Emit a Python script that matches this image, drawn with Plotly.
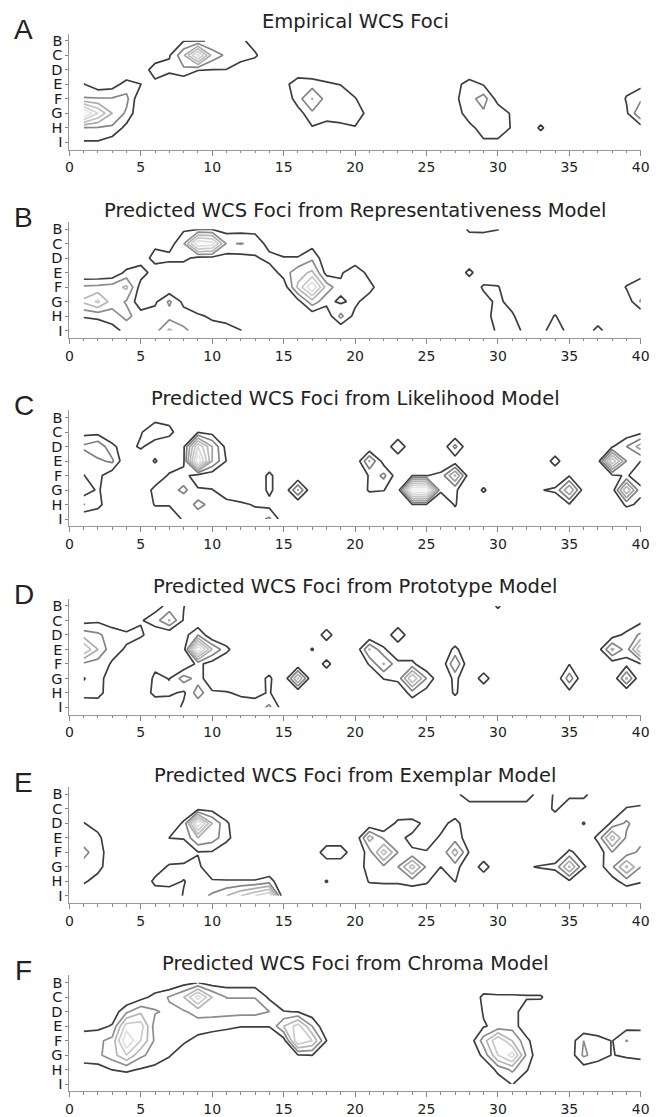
import plotly.graph_objects as go

ROWS = ["B", "C", "D", "E", "F", "G", "H", "I"]
COLS = list(range(1, 41))
XTICKS = [0, 5, 10, 15, 20, 25, 30, 35, 40]
PANEL_LETTERS = ["A", "B", "C", "D", "E", "F"]
TITLES = [
    "Empirical WCS Foci",
    "Predicted WCS Foci from Representativeness Model",
    "Predicted WCS Foci from Likelihood Model",
    "Predicted WCS Foci from Prototype Model",
    "Predicted WCS Foci from Exemplar Model",
    "Predicted WCS Foci from Chroma Model",
]

# focus density per chip (row letter -> {column: value}); unlisted chips are 0
EMPIRICAL = {
    "B": {8: 0.95, 9: 0.95, 10: 1.05, 11: 1.2, 12: 1.3, 13: 0.4},
    "C": {7: 0.9, 8: 2.8, 9: 6.5, 10: 2.6, 11: 1.8, 12: 1.4, 13: 1.2},
    "D": {6: 1.8, 7: 1.3, 8: 1.8, 9: 1.05, 10: 0.98, 11: 0.97, 12: 0.5},
    "E": {1: 1.05, 2: 0.33, 3: 0.5, 4: 1.43, 5: 1.02, 6: 0.55,
          15: 0.5, 16: 1.8, 17: 1.6, 18: 1.2, 19: 0.95,
          27: 0.6, 28: 1.5, 29: 0.9, 39: 0.6, 40: 0.7},
    "F": {1: 2.1, 2: 2.1, 3: 2.1, 4: 2.3, 16: 1.6, 17: 3.05, 18: 1.6, 19: 1.8, 20: 1.1,
          27: 0.8, 28: 1.6, 29: 2.5, 30: 0.5, 39: 1.1, 40: 1.8},
    "G": {1: 7.5, 2: 5.0, 3: 3.0, 4: 1.8, 16: 0.5, 17: 1.8, 18: 1.6, 19: 1.6, 20: 1.8, 21: 0.5,
          27: 0.3, 28: 1.7, 29: 1.8, 30: 1.8, 31: 0.8, 39: 0.8, 40: 3.0},
    "H": {1: 1.9, 2: 1.9, 3: 1.8, 4: 0.66, 17: 0.9, 18: 0.5, 19: 0.7, 20: 0.9,
          28: 0.6, 29: 1.6, 30: 1.6, 31: 0.9, 33: 1.25, 40: 0.5},
    "I": {1: 0.9, 2: 0.9, 3: 0.47, 29: 0.8, 30: 0.8},
}

REPRESENTATIVENESS = {
    "B": {8: 0.83, 9: 0.95, 10: 0.95, 11: 0.6, 12: 0.6, 13: 0.6, 28: 1.25, 29: 1.3, 30: 1.05},
    "C": {6: 0.8, 7: 0.5, 8: 1.9, 9: 6.0, 10: 5.5, 11: 1.9, 12: 2.05, 13: 1.8, 14: 0.5, 17: 0.6},
    "D": {5: 0.5, 6: 1.33, 7: 1.33, 8: 1.33, 9: 0.6, 10: 0.6, 11: 0.6, 12: 0.6, 13: 0.8,
          14: 1.4, 15: 1.1, 16: 1.1, 17: 1.8, 18: 0.2},
    "E": {3: 0.1, 4: 1.3, 5: 1.5, 6: 0.5, 14: 0.3, 15: 1.5, 16: 2.6, 17: 3.2, 18: 0.6,
          19: 0.8, 20: 2.0, 21: 0.5, 28: 1.35, 40: 0.6},
    "F": {1: 2.2, 2: 2.3, 3: 2.5, 4: 3.2, 5: 0.5, 15: 0.3, 16: 3.2, 17: 6.0, 18: 2.6, 19: 1.3,
          20: 1.8, 21: 1.5, 29: 1.2, 30: 1.1, 39: 1.1, 40: 1.6},
    "G": {1: 3.2, 2: 4.2, 3: 2.5, 4: 1.9, 5: 0.3, 6: 0.8, 7: 2.2, 8: 0.7, 16: 0.6, 17: 2.6,
          18: 1.3, 19: 0.8, 20: 1.3, 21: 0.3, 29: 0.5, 30: 1.3, 31: 0.5, 39: 0.3, 40: 2.1},
    "H": {1: 1.1, 2: 1.2, 3: 1.5, 4: 2.3, 5: 1.5, 6: 1.5, 7: 1.6, 8: 1.5, 9: 1.2, 10: 0.8,
          11: 0.5, 17: 0.25, 18: 0.3, 19: 2.3, 20: 0.6, 29: 0.5, 30: 1.5, 31: 1.2, 34: 1.1},
    "I": {2: 0.3, 3: 0.6, 4: 1.3, 5: 1.5, 6: 1.6, 7: 3.2, 8: 2.2, 9: 1.6, 10: 1.5, 11: 1.5,
          12: 1.05, 29: 0.3, 30: 1.2, 31: 1.3, 32: 0.8, 33: 0.4, 34: 2.0, 35: 0.4, 37: 1.5},
}

LIKELIHOOD = {
    "B": {6: 0.6, 7: 0.5},
    "C": {1: 0.6, 2: 0.6, 3: 0.3, 5: 0.9, 6: 1.8, 7: 1.4, 9: 0.9, 10: 0.6, 39: 0.3, 40: 0.7},
    "D": {1: 2.2, 2: 2.8, 3: 1.2, 4: 0.5, 5: 1.2, 6: 0.3, 8: 0.8, 9: 6.0, 10: 3.0, 11: 0.6,
          23: 2.0, 27: 2.3, 38: 0.9, 39: 2.0, 40: 3.5},
    "E": {1: 1.3, 2: 1.8, 3: 2.2, 6: 1.15, 8: 0.8, 9: 8.0, 10: 3.0, 11: 0.95, 21: 3.1, 22: 0.5,
          27: 0.3, 34: 1.5, 37: 0.5, 38: 6.0, 39: 2.0, 40: 1.0},
    "F": {1: 0.98, 2: 1.3, 3: 0.3, 7: 1.2, 8: 1.3, 9: 0.5, 10: 0.3, 14: 1.3, 21: 1.1, 22: 2.3,
          23: 0.3, 24: 0.95, 25: 0.95, 26: 1.3, 27: 4.2, 28: 0.3, 35: 0.9, 38: 0.8, 39: 1.1, 40: 0.5},
    "G": {1: 0.3, 2: 1.18, 6: 1.4, 7: 1.5, 8: 2.3, 9: 1.1, 10: 1.05, 11: 0.3, 14: 1.3, 16: 3.1,
          21: 1.15, 22: 1.05, 23: 0.2, 24: 8.4, 25: 8.4, 26: 1.2, 27: 1.2, 29: 1.2, 33: 0.95,
          34: 1.2, 35: 4.0, 36: 0.5, 38: 0.4, 39: 5.0, 40: 1.2},
    "H": {1: 2.05, 2: 1.4, 6: 1.1, 7: 1.1, 8: 1.1, 9: 2.4, 10: 1.6, 11: 1.4, 12: 1.2, 13: 0.9,
          14: 0.6, 24: 0.95, 25: 0.95, 27: 1.1, 35: 0.9, 39: 1.2, 40: 0.8},
    "I": {8: 1.2, 9: 1.2, 10: 1.5, 11: 1.5, 12: 1.5, 13: 1.5, 14: 2.2, 15: 0.3, 27: 0.5},
}

PROTOTYPE = {
    "B": {6: 0.6, 7: 1.3, 8: 1.05, 30: 1.2},
    "C": {1: 0.6, 2: 0.8, 3: 0.5, 4: 0.3, 5: 0.9, 6: 1.5, 7: 3.1, 8: 0.9, 40: 0.7},
    "D": {1: 2.6, 2: 2.2, 3: 1.5, 4: 1.2, 5: 1.2, 6: 0.3, 8: 0.5, 9: 2.0, 18: 1.6, 23: 2.0,
          38: 0.5, 39: 1.3, 40: 2.2},
    "E": {1: 5.0, 2: 3.0, 3: 1.3, 4: 0.9, 8: 0.5, 9: 7.0, 10: 3.0, 11: 1.3, 17: 1.1, 21: 3.1,
          22: 1.2, 27: 1.3, 37: 0.5, 38: 3.2, 39: 1.5, 40: 5.0},
    "F": {1: 1.8, 2: 1.5, 3: 0.9, 6: 0.75, 9: 1.3, 10: 0.5, 14: 0.3, 18: 1.4, 21: 1.1, 22: 3.1,
          23: 1.3, 24: 1.3, 27: 3.0, 35: 0.95, 38: 0.4, 39: 0.6, 40: 1.0},
    "G": {1: 0.95, 2: 1.4, 3: 0.4, 5: 0.2, 6: 1.2, 7: 0.97, 8: 2.5, 9: 1.6, 13: 0.5, 14: 1.2,
          16: 4.2, 22: 1.05, 23: 1.3, 24: 5.0, 25: 2.0, 27: 1.3, 29: 1.6, 35: 2.6, 39: 3.2},
    "H": {1: 1.3, 2: 1.4, 3: 0.3, 5: 0.3, 6: 1.3, 7: 1.2, 8: 0.8, 9: 2.5, 10: 1.2, 11: 1.1,
          12: 0.8, 13: 0.7, 14: 1.1, 24: 1.5, 25: 0.5, 27: 1.2, 35: 0.6},
    "I": {1: 0.4, 2: 0.3, 6: 0.2, 7: 0.3, 8: 1.2, 9: 1.2, 10: 1.3, 11: 1.5, 12: 1.6, 13: 1.5,
          14: 2.2, 15: 0.4},
}

EXEMPLAR = {
    "B": {27: 0.5, 28: 2.0, 29: 2.0, 30: 2.0, 31: 2.0, 32: 2.0, 34: 1.2, 35: 1.4, 36: 1.4},
    "C": {9: 0.6, 10: 0.6, 34: 1.3, 39: 1.1, 40: 1.3},
    "D": {1: 1.05, 2: 0.5, 8: 1.2, 9: 7.0, 10: 3.0, 11: 1.2, 23: 1.3, 24: 1.4, 25: 0.7,
          26: 0.5, 27: 1.5, 36: 1.1, 38: 1.2, 39: 2.2, 40: 1.3},
    "E": {1: 1.5, 2: 1.3, 7: 1.02, 8: 1.1, 9: 3.0, 10: 2.5, 11: 1.4, 21: 3.5, 22: 1.8, 23: 1.2,
          24: 0.8, 25: 0.3, 26: 1.2, 27: 1.5, 28: 0.5, 37: 1.3, 38: 4.5, 39: 1.8, 40: 1.6},
    "F": {1: 2.3, 2: 1.5, 3: 0.3, 9: 0.95, 10: 0.9, 18: 1.8, 19: 1.8, 21: 1.5, 22: 4.5,
          23: 2.0, 24: 1.1, 25: 1.1, 26: 1.1, 27: 3.5, 28: 0.9, 35: 1.2, 36: 0.5, 37: 0.3,
          38: 2.0, 39: 1.4, 40: 2.3},
    "G": {1: 1.6, 2: 1.4, 3: 0.2, 6: 0.3, 7: 1.2, 8: 1.3, 9: 1.2, 10: 0.3, 20: 0.2, 21: 1.5,
          22: 1.8, 23: 2.0, 24: 4.5, 25: 1.8, 26: 1.0, 27: 1.5, 29: 1.6, 32: 0.9, 33: 1.1,
          34: 1.3, 35: 4.2, 36: 1.1, 37: 0.5, 38: 1.8, 39: 4.2, 40: 2.0},
    "H": {1: 1.2, 2: 0.5, 6: 1.3, 7: 1.3, 8: 0.96, 9: 1.3, 10: 1.1, 11: 1.1, 12: 1.1, 13: 1.1,
          14: 1.5, 18: 1.1, 21: 1.1, 22: 1.2, 23: 1.2, 24: 1.5, 25: 1.2, 27: 1.05, 35: 0.8,
          38: 0.6, 39: 1.5, 40: 1.1},
    "I": {6: 0.3, 7: 0.5, 8: 1.05, 9: 1.5, 10: 2.2, 11: 3.0, 12: 4.0, 13: 5.0, 14: 6.0},
}

CHROMA = {
    "B": {8: 0.6, 9: 1.02, 10: 0.5, 11: 0.5, 12: 0.5, 13: 0.5},
    "C": {5: 0.6, 6: 1.4, 7: 2.1, 8: 3.0, 9: 5.5, 10: 3.0, 11: 1.98, 12: 1.98, 13: 1.98,
          14: 0.8, 29: 1.3, 30: 1.2, 31: 1.2, 32: 1.15, 33: 1.15},
    "D": {3: 0.3, 4: 1.8, 5: 2.8, 6: 2.1, 7: 1.8, 8: 1.9, 9: 2.3, 10: 2.3, 11: 2.3, 12: 2.3,
          13: 2.3, 14: 2.0, 15: 1.05, 16: 0.95, 17: 0.3, 29: 1.1, 30: 1.2, 31: 1.6, 32: 0.2},
    "E": {1: 0.6, 2: 0.7, 3: 1.1, 4: 4.5, 5: 4.5, 6: 1.5, 7: 1.5, 8: 1.5, 9: 1.6, 10: 1.5,
          11: 1.3, 12: 1.05, 13: 1.05, 14: 1.05, 15: 3.0, 16: 4.5, 17: 2.0, 29: 0.9, 30: 1.3,
          31: 1.6, 32: 0.2, 39: 0.6, 40: 0.8},
    "F": {1: 1.7, 2: 1.8, 3: 2.3, 4: 6.0, 5: 4.0, 6: 1.8, 7: 1.5, 8: 1.2, 9: 0.6, 10: 0.2,
          15: 0.5, 16: 5.0, 17: 4.0, 18: 1.02, 28: 0.3, 29: 2.5, 30: 5.0, 31: 3.0, 32: 1.3,
          35: 0.3, 36: 2.0, 37: 1.5, 38: 0.95, 39: 2.05, 40: 1.5},
    "G": {1: 1.7, 2: 1.8, 3: 2.5, 4: 4.0, 5: 2.2, 6: 1.6, 7: 1.1, 8: 0.3, 16: 0.95, 17: 1.02,
          29: 1.3, 30: 4.0, 31: 5.5, 32: 1.8, 35: 0.3, 36: 2.2, 37: 1.5, 38: 0.95, 39: 1.2,
          40: 1.2},
    "H": {1: 0.4, 2: 0.5, 3: 1.02, 4: 1.2, 5: 0.9, 6: 0.7, 7: 0.3, 30: 1.3, 31: 2.2, 32: 1.1,
          36: 0.4, 37: 0.3, 40: 0.5},
    "I": {30: 0.3, 31: 1.05, 32: 0.3},
}

PANELS = [EMPIRICAL, REPRESENTATIVENESS, LIKELIHOOD, PROTOTYPE, EXEMPLAR, CHROMA]


def to_grid(spec):
    z = [[0.0 for _ in COLS] for _ in ROWS]
    for r, cols in spec.items():
        for c, v in cols.items():
            z[ROWS.index(r)][c - 1] = v
    return z


# gray ramp stops: (fraction of a panel's level range, gray value)
RAMP = [(0.0, 62), (0.1, 118), (0.35, 176), (1.0, 244)]


def level_color(frac):
    for (f0, g0), (f1, g1) in zip(RAMP[:-1], RAMP[1:]):
        if frac <= f1:
            g = g0 + (g1 - g0) * (frac - f0) / (f1 - f0)
            break
    else:
        g = RAMP[-1][1]
    g = int(round(g))
    return f"rgb({g},{g},{g})"


# page is drawn inside the browser's default 8px body margin
OFF = 8.0
W, H = 663 - OFF, 1117 - OFF
X0, X1 = 66.5 - OFF, 649.5 - OFF     # plot area left/right (x = 0 .. 40)
PANEL_H = 116.6                       # plot area height (rows A.5 .. I.5)
TOP0, STEP = 32.7 - OFF, 189.4        # first plot top and vertical pitch

fig = go.Figure()
annotations = []
for k, spec in enumerate(PANELS):
    z = to_grid(spec)
    top_level = int(max(max(r) for r in z))
    top = TOP0 + STEP * k
    bot = top + PANEL_H
    xa = "x" if k == 0 else f"x{k+1}"
    ya = "y" if k == 0 else f"y{k+1}"
    for lev in range(1, top_level + 1):
        frac = (lev - 1) / max(top_level - 1, 1)
        fig.add_trace(go.Contour(
            z=z, x=COLS, y=list(range(1, 9)),
            contours=dict(coloring="none", start=lev, end=lev, size=1, showlabels=False),
            line=dict(width=1.7, smoothing=0, color=level_color(frac)),
            showscale=False, hoverinfo="skip", xaxis=xa, yaxis=ya,
        ))
    xkey = "xaxis" if k == 0 else f"xaxis{k+1}"
    ykey = "yaxis" if k == 0 else f"yaxis{k+1}"
    fig.layout[xkey] = dict(
        domain=[X0 / W, X1 / W], anchor=ya, range=[0, 40], tickvals=XTICKS, ticks="outside",
        ticklen=5, tickwidth=1, tickcolor="#888", showline=True, linecolor="#999",
        linewidth=1, showgrid=False, zeroline=False,
        tickfont=dict(family="DejaVu Sans", size=14, color="#222"),
        minor=dict(dtick=1, ticks="outside", ticklen=2.5, tickcolor="#888"),
    )
    fig.layout[ykey] = dict(
        domain=[1 - bot / H, 1 - top / H], anchor=xa, range=[8.5, 0.5],
        tickvals=list(range(1, 9)), ticktext=ROWS, ticks="outside", ticklen=3,
        tickcolor="#888", showline=True, linecolor="#999", linewidth=1,
        showgrid=False, zeroline=False,
        tickfont=dict(family="DejaVu Sans", size=14.5, color="#1a1a1a"),
    )
    annotations.append(dict(
        text=TITLES[k], xref="paper", yref="paper", x=(X0 + X1) / 2 / W,
        y=1 - (top - 12.0) / H, xanchor="center", yanchor="middle", showarrow=False,
        font=dict(family="DejaVu Sans", size=19.5, color="#222"),
    ))
    annotations.append(dict(
        text=PANEL_LETTERS[k], xref="paper", yref="paper", x=(20 - OFF) / W,
        y=1 - (top - 4.5) / H, xanchor="center", yanchor="middle", showarrow=False,
        font=dict(family="Liberation Sans", size=28, color="#222"),
    ))

fig.update_layout(
    width=W, height=H, margin=dict(l=0, r=0, t=0, b=0),
    paper_bgcolor="white", plot_bgcolor="white", showlegend=False,
    annotations=annotations,
)
fig.write_html("out.html")
